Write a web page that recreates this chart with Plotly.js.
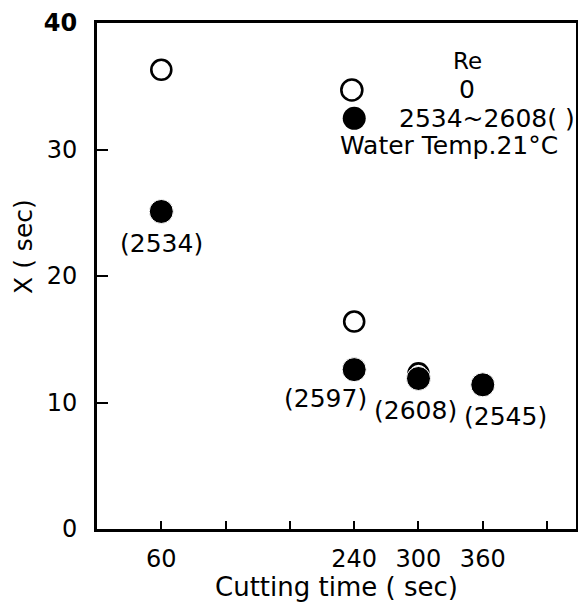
<!DOCTYPE html>
<html>
<head>
<meta charset="utf-8">
<script src="https://cdn.plot.ly/plotly-3.0.1.min.js"></script>
<style>html,body{margin:0;padding:0;background:#fff;}#chart{width:578px;height:602px;}</style>
</head>
<body>
<div id="chart"></div>
<script>
// ---- data ----
const openTimes = [60, 240, 300];
const openX = [36.3, 16.4, 12.3];            // Re = 0
const filledTimes = [60, 240, 300, 360];
const filledX = [25.1, 12.6, 11.9, 11.4];     // Re = 2534~2608
const filledRe = ["2534", "2597", "2608", "2545"];
const xTickVals = [60, 120, 180, 240, 300, 360, 420];
const xTickText = ["60", "", "", "240", "300", "360", ""];
const yTickVals = [0, 10, 20, 30, 40];
const yTickText = ["0", "10", "20", "30", "<b>40</b>"];

// ---- label offsets (styling) ----
const labelShiftX = [0, -29, -3, 23];
const labelShiftY = [-32, -29, -32, -32];

const FONT = "DejaVu Sans";

const traces = [
  {
    x: openTimes, y: openX, type: "scatter", mode: "markers", name: "0",
    marker: {symbol: "circle", size: 20, color: "#ffffff", line: {color: "#000", width: 2.6}},
    showlegend: false, cliponaxis: false
  },
  {
    x: filledTimes, y: filledX, type: "scatter", mode: "markers", name: "2534~2608",
    marker: {symbol: "circle", size: 24, color: "#000", line: {color: "#fff", width: 1}},
    showlegend: false, cliponaxis: false
  }
];

const annotations = filledTimes.map((t, i) => ({
  x: t, y: filledX[i], xref: "x", yref: "y",
  text: "(" + filledRe[i] + ")", showarrow: false,
  xshift: labelShiftX[i], yshift: labelShiftY[i],
  font: {family: FONT, size: 25, color: "#000"}
}));

// legend texts
annotations.push(
  {x: 0.773, y: 0.925, xref: "paper", yref: "paper", text: "Re", showarrow: false,
   xanchor: "center", yanchor: "middle", font: {family: FONT, size: 23, color: "#000"}},
  {x: 0.773, y: 0.868, xref: "paper", yref: "paper", text: "0", showarrow: false,
   xanchor: "center", yanchor: "middle", font: {family: FONT, size: 25, color: "#000"}},
  {x: 0.626, y: 0.812, xref: "paper", yref: "paper", text: "2534~2608( )", showarrow: false,
   xanchor: "left", yanchor: "middle", font: {family: FONT, size: 25, color: "#000"}},
  {x: 0.504, y: 0.757, xref: "paper", yref: "paper", text: "Water Temp.21°C", showarrow: false,
   xanchor: "left", yanchor: "middle", font: {family: FONT, size: 25, color: "#000"}},
  // y axis title
  {x: -0.155, y: 0.559, xref: "paper", yref: "paper", text: "X ( sec)", showarrow: false,
   textangle: -90, xanchor: "center", yanchor: "middle", font: {family: FONT, size: 25, color: "#000"}}
);

const shapes = [
  {type: "circle", xref: "paper", yref: "paper", xsizemode: "pixel", ysizemode: "pixel",
   xanchor: 0.532, yanchor: 0.8676, x0: -10.5, x1: 10.5, y0: -10.5, y1: 10.5,
   fillcolor: "#fff", line: {color: "#000", width: 2.6}},
  {type: "circle", xref: "paper", yref: "paper", xsizemode: "pixel", ysizemode: "pixel",
   xanchor: 0.537, yanchor: 0.8117, x0: -11.5, x1: 11.5, y0: -11.5, y1: 11.5,
   fillcolor: "#000", line: {color: "#000", width: 0}}
];

const layout = {
  width: 578, height: 602,
  margin: {l: 97, r: 2, t: 23, b: 73, pad: 0},
  paper_bgcolor: "#fff", plot_bgcolor: "#fff",
  showlegend: false,
  font: {family: FONT, size: 24, color: "#000"},
  xaxis: {
    range: [0, 447], showgrid: false, zeroline: false,
    showline: true, linecolor: "#000", linewidth: 3, mirror: true,
    ticks: "inside", ticklen: 8, tickwidth: 2, tickcolor: "#000",
    tickvals: xTickVals, ticktext: xTickText, ticklabelstandoff: 6,
    tickfont: {family: FONT, size: 24, color: "#000"},
    title: {text: "Cutting time ( sec)", font: {family: FONT, size: 26, color: "#000"}, standoff: 8}
  },
  yaxis: {
    range: [0, 40], showgrid: false, zeroline: false,
    showline: true, linecolor: "#000", linewidth: 3, mirror: true,
    ticks: "inside", ticklen: 11, tickwidth: 2, tickcolor: "#000",
    tickvals: yTickVals, ticktext: yTickText, ticklabelstandoff: 12,
    tickfont: {family: FONT, size: 24, color: "#000"}
  },
  annotations: annotations,
  shapes: shapes
};

Plotly.newPlot("chart", traces, layout, {displayModeBar: false, staticPlot: true});
</script>
</body>
</html>
